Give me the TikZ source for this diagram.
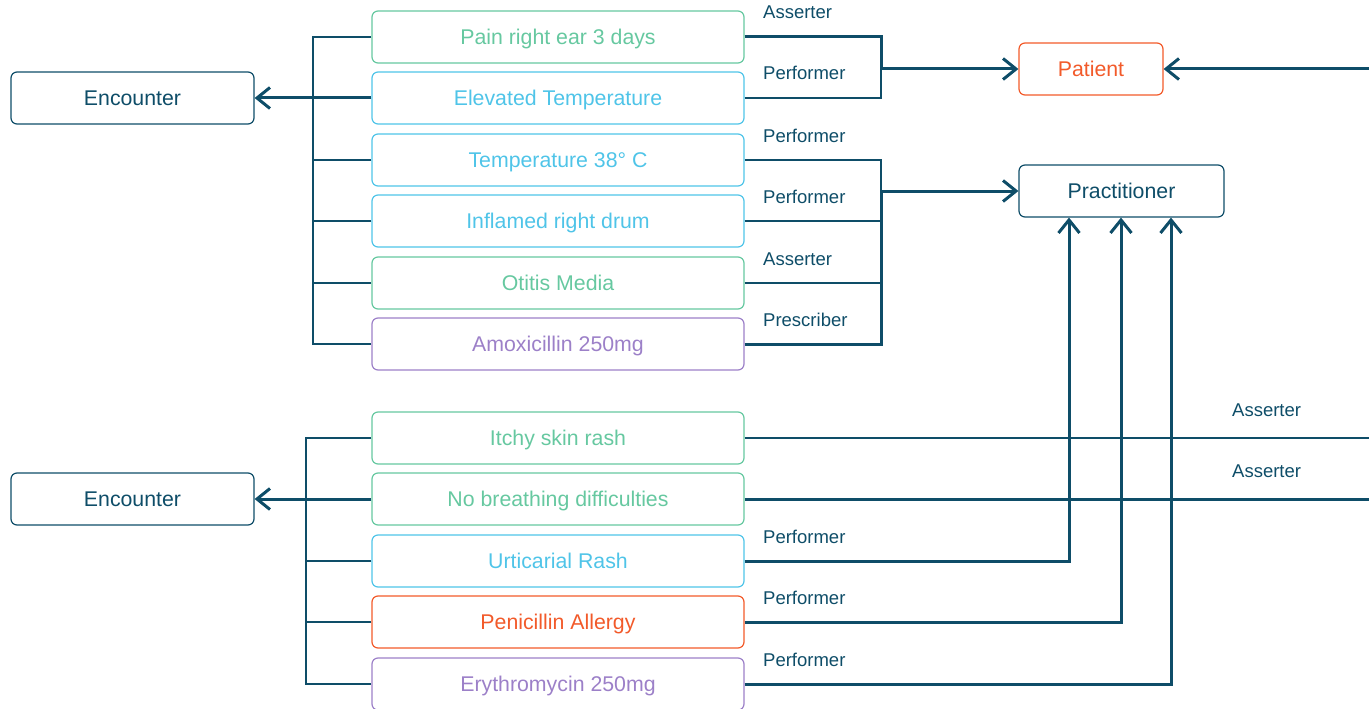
\documentclass[tikz,border=0pt]{standalone}
\usepackage{fontspec}
\setmainfont{Liberation Sans}
\usetikzlibrary{arrows.meta}
\definecolor{inkBlue}{HTML}{0E4D68}
\definecolor{obsGreen}{HTML}{66C8A0}
\definecolor{obsCyan}{HTML}{4FC4E8}
\definecolor{medPurple}{HTML}{9C80C8}
\definecolor{allOrange}{HTML}{F25A2A}
\newcommand\boxWidth{372}
\newcommand\boxHeight{52}
\newcommand\midX{558}
\newcommand\labelX{763}
\newcommand\roleDrop{18}

\tikzset{
  entity/.style={draw=inkBlue, text=inkBlue, rounded corners=6pt, line width=1.2pt, minimum height=\boxHeight pt, inner sep=0pt, text height=15.3pt, text depth=0pt, font=\fontsize{21.3}{24}\selectfont},
  item/.style={draw=#1, text=#1, rounded corners=6pt, line width=1.2pt, minimum width=\boxWidth pt, minimum height=\boxHeight pt, inner sep=0pt, text height=15.3pt, text depth=0pt, font=\fontsize{21.3}{24}\selectfont},
  thinlink/.style={draw=inkBlue, line width=1.4pt},
  thicklink/.style={draw=inkBlue, line width=3pt},
  barb/.style={-{Straight Barb[length=13pt,width=21pt]}},
  role/.style={anchor=base west, text=inkBlue, inner sep=0pt, font=\fontsize{18.5}{21}\selectfont}
}

\begin{document}
\begin{tikzpicture}[x=1pt, y=-1pt]
    \useasboundingbox (0,0) rectangle (1369,709);

    % resources
    \node[entity, minimum width=243pt] (enc1) at (132.5,98) {Encounter};
    \node[entity, minimum width=243pt] (enc2) at (132.5,499) {Encounter};
    \node[item=allOrange, minimum width=144pt] (patient) at (1091,69) {Patient};
    \node[entity, minimum width=205pt] (pract) at (1121.5,191) {Practitioner};

    \foreach \y/\name/\col/\txt in {37/a1/obsGreen/Pain right ear 3 days, 98/a2/obsCyan/Elevated Temperature, 160/a3/obsCyan/Temperature 38° C, 221/a4/obsCyan/Inflamed right drum, 283/a5/obsGreen/Otitis Media, 344/a6/medPurple/Amoxicillin 250mg}{
      \node[item=\col] (\name) at (\midX,\y) {\txt};
    }

    \foreach \y/\name/\col/\txt in {438/b1/obsGreen/Itchy skin rash, 499/b2/obsGreen/No breathing difficulties, 561/b3/obsCyan/Urticarial Rash, 622/b4/allOrange/Penicillin Allergy, 684/b5/medPurple/Erythromycin 250mg}{
      \node[item=\col] (\name) at (\midX,\y) {\txt};
    }

    \coordinate (busA) at (313,0);
    \coordinate (busB) at (306,0);
    \coordinate (joinP) at (881,0);
    \coordinate (rightEdge) at (1369,0);
    \coordinate (pin1) at (1069,0);
    \coordinate (pin2) at (1121,0);
    \coordinate (pin3) at (1171,0);

    % encounter buses
    \draw[thinlink] (a1.west) -| (busA |- a6.west) -- (a6.west);
    \foreach \n in {3,4,5}{
      \draw[thinlink] (a\n.west) -- (a\n.west -| busA);
    }
    \draw[thicklink, barb] (a2.west) -- (enc1.east);

    \draw[thinlink] (b1.west) -| (busB |- b5.west) -- (b5.west);
    \foreach \n in {3,4}{
      \draw[thinlink] (b\n.west) -- (b\n.west -| busB);
    }
    \draw[thicklink, barb] (b2.west) -- (enc2.east);

    % patient
    \draw[thinlink] (a2.east) -| (joinP |- patient.west);
    \draw[thicklink] (a1.east) -| (joinP |- patient.west);
    \draw[thicklink, barb] (joinP |- patient.west) -- (patient.west);
    \draw[thicklink, barb] (patient.east -| rightEdge) -- (patient.east);

    % practitioner
    \draw[thinlink] (a3.east) -| (joinP |- pract.west);
    \foreach \n in {4,5}{
      \draw[thinlink] (a\n.east) -- (a\n.east -| joinP);
    }
    \draw[thicklink] (a6.east) -| (joinP |- pract.west);
    \draw[thicklink, barb] (joinP |- pract.west) -- (pract.west);

    \draw[thicklink, barb] (b3.east) -| (pin1 |- pract.south);
    \draw[thicklink, barb] (b4.east) -| (pin2 |- pract.south);
    \draw[thicklink, barb] (b5.east) -| (pin3 |- pract.south);

    \draw[thinlink] (b1.east) -- (b1.east -| rightEdge);
    \draw[thicklink] (b2.east) -- (b2.east -| rightEdge);

    % roles
    \foreach \y/\txt in {37/Asserter, 98/Performer, 160/Performer, 221/Performer, 283/Asserter, 344/Prescriber, 561/Performer, 622/Performer, 684/Performer}{
      \node[role] (role\y) at (\labelX,\y-\roleDrop) {\txt};
    }
    \node[role] (roleR1) at (1232,416) {Asserter};
    \node[role] (roleR2) at (1232,477) {Asserter};

  \end{tikzpicture}
\end{document}
